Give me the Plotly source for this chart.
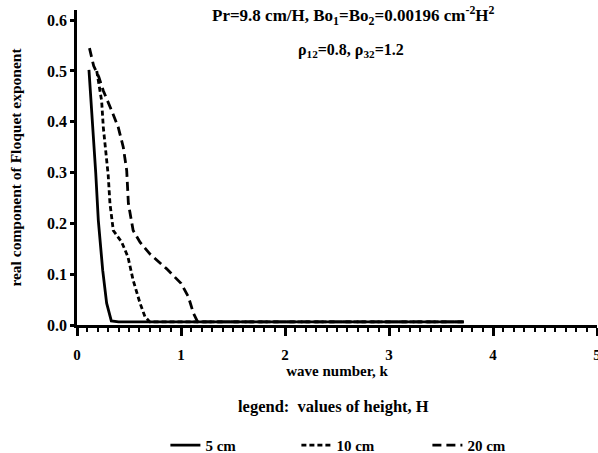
import plotly.graph_objects as go

# Real part of the Floquet exponent vs wave number for three layer heights
k_5cm = [0.115, 0.15, 0.18, 0.205, 0.247, 0.285, 0.31, 0.33, 0.40, 1.0, 2.0, 3.0, 3.72]
v_5cm = [0.502, 0.40, 0.30, 0.206, 0.108, 0.043, 0.02, 0.008, 0.006, 0.006, 0.006, 0.006, 0.006]

k_10cm = [0.19, 0.215, 0.237, 0.253, 0.279, 0.30, 0.317, 0.349, 0.43, 0.49, 0.54, 0.606, 0.654, 0.70, 1.0, 2.0, 3.0, 3.72]
v_10cm = [0.50, 0.47, 0.441, 0.389, 0.336, 0.295, 0.239, 0.186, 0.163, 0.134, 0.088, 0.043, 0.016, 0.006, 0.006, 0.006, 0.006, 0.006]

k_20cm = [0.12, 0.16, 0.21, 0.253, 0.333, 0.397, 0.445, 0.478, 0.494, 0.54, 0.606, 0.70, 0.86, 1.0, 1.07, 1.12, 1.16, 2.0, 3.0, 3.72]
v_20cm = [0.545, 0.51, 0.488, 0.461, 0.422, 0.389, 0.35, 0.304, 0.239, 0.186, 0.163, 0.14, 0.111, 0.082, 0.056, 0.023, 0.006, 0.006, 0.006, 0.006]

series = [
    ("5 cm", k_5cm, v_5cm, "solid"),
    ("10 cm", k_10cm, v_10cm, "5px,3px"),
    ("20 cm", k_20cm, v_20cm, "9px,5px"),
]

x_ticks = [0, 1, 2, 3, 4, 5]
y_ticks = [0.0, 0.1, 0.2, 0.3, 0.4, 0.5, 0.6]

FONT = "Liberation Serif"


def bold(size):
    return dict(family=FONT, size=size, color="black", weight="bold")


fig = go.Figure()
for name, xs, ys, dash in series:
    fig.add_trace(go.Scatter(
        x=xs, y=ys, name=name, mode="lines",
        line=dict(color="black", width=2.8, dash=dash),
    ))

fig.update_layout(
    width=598, height=453,
    margin=dict(l=77, r=1, t=10, b=128, autoexpand=False),
    paper_bgcolor="white", plot_bgcolor="white",
    font=dict(family=FONT, color="black", size=12),
    showlegend=True,
    legend=dict(
        orientation="h", x=0.17, xanchor="left", y=-0.33, yanchor="top",
        font=bold(15),
        entrywidth=86, entrywidthmode="pixels",
        bgcolor="rgba(0,0,0,0)",
    ),
)

fig.update_xaxes(
    range=[0, 5], tickvals=x_ticks, ticktext=[str(v) for v in x_ticks],
    showline=True, linecolor="black", linewidth=2.5,
    ticks="outside", ticklen=8, tickwidth=2.5, tickcolor="black",
    minor=dict(dtick=0.1, ticks="outside", ticklen=4, tickwidth=2, tickcolor="black"),
    showgrid=False, zeroline=False, automargin=False,
    ticklabelstandoff=6, ticklabeloverflow="allow",
    tickfont=bold(15),
    title=dict(text="wave number, k", standoff=0, font=bold(15)),
)
fig.update_yaxes(
    range=[0, 0.62], tickvals=y_ticks, ticktext=[f"{v:.1f}" for v in y_ticks],
    showline=True, linecolor="black", linewidth=2.5,
    ticks="outside", ticklen=4, tickwidth=2.5, tickcolor="black",
    showgrid=False, zeroline=False, automargin=False,
    tickfont=bold(16),
    title=dict(text="real component of Floquet exponent", standoff=22, font=bold(15.5)),
)

fig.add_annotation(
    text="Pr=9.8 cm/H, Bo<sub>1</sub>=Bo<sub>2</sub>=0.00196 cm<sup>-2</sup>H<sup>2</sup>",
    xref="paper", yref="paper", x=0.531, y=0.984, xanchor="center", yanchor="middle",
    showarrow=False, font=bold(17),
)
fig.add_annotation(
    text="ρ<sub>12</sub>=0.8, ρ<sub>32</sub>=1.2",
    xref="paper", yref="paper", x=0.527, y=0.873, xanchor="center", yanchor="middle",
    showarrow=False, font=bold(16),
)
fig.add_annotation(
    text="legend:  values of height, H",
    xref="paper", yref="paper", x=0.494, y=-0.26, xanchor="center", yanchor="middle",
    showarrow=False, font=bold(16.5),
)

fig.write_html("out.html")
